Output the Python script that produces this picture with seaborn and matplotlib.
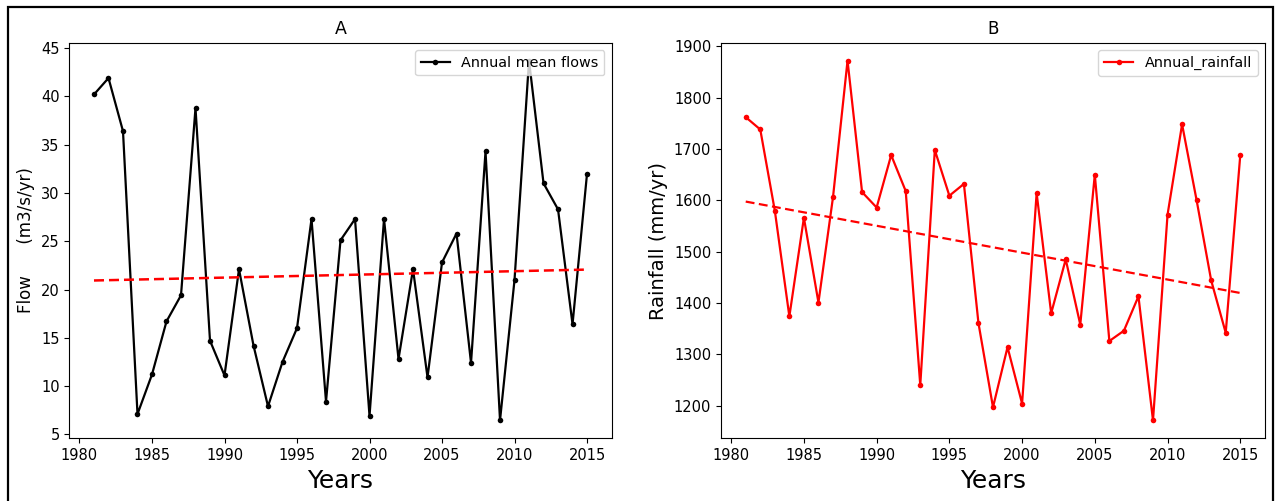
import numpy as np
import pandas as pd
import matplotlib
matplotlib.use("Agg")
import matplotlib.pyplot as plt
from matplotlib.patches import Rectangle
import seaborn as sns

years = list(range(1981, 2016))
flows = [40.2, 41.9, 36.4, 7.1, 11.2, 16.7, 19.4, 38.8, 14.7, 11.1,
         22.1, 14.2, 7.9, 12.5, 16.0, 27.3, 8.4, 25.1, 27.3, 6.9,
         27.3, 12.8, 22.1, 10.9, 22.8, 25.8, 12.4, 34.3, 6.45, 21.0,
         43.7, 31.0, 28.3, 16.4, 32.0]
rainfall = [1762, 1738, 1580, 1374, 1566, 1401, 1606, 1872, 1616, 1586,
            1688, 1618, 1240, 1698, 1609, 1632, 1361, 1197, 1314, 1204,
            1614, 1380, 1485, 1358, 1650, 1326, 1346, 1413, 1171.5, 1572,
            1748, 1600, 1444, 1342, 1688]

df = pd.DataFrame({"Years": years, "Flow": flows, "Rain": rainfall})

fig = plt.figure(figsize=(12.77, 5.01), dpi=100)
axA = fig.add_axes([0.0543, 0.1251, 0.479 - 0.0543, 0.9148 - 0.1251])
axB = fig.add_axes([0.5646, 0.1251, 0.9906 - 0.5646, 0.9148 - 0.1251])

# Panel A
sns.lineplot(data=df, x="Years", y="Flow", ax=axA, color="black", marker="o",
             markersize=4, markeredgewidth=0, linewidth=1.6, label="Annual mean flows")
cA = np.polyfit(df["Years"], df["Flow"], 1)
axA.plot(df["Years"], np.polyval(cA, df["Years"]), color="red", linestyle=(0, (4, 2)),
         linewidth=1.8)
axA.set_title("A", fontsize=12.5)
axA.set_xlabel("Years", fontsize=18)
axA.set_ylabel("Flow      (m3/s/yr)", fontsize=12)
axA.legend(loc="upper right", fontsize=10.4)

# Panel B
sns.lineplot(data=df, x="Years", y="Rain", ax=axB, color="red", marker="o",
             markersize=4, markeredgewidth=0, linewidth=1.6, label="Annual_rainfall")
cB = np.polyfit(df["Years"], df["Rain"], 1)
axB.plot(df["Years"], np.polyval(cB, df["Years"]), color="red", linestyle=(0, (4, 2)),
         linewidth=1.6)
axB.set_title("B", fontsize=12)
axB.set_xlabel("Years", fontsize=18)
axB.set_ylabel("Rainfall (mm/yr)", fontsize=14)
axB.legend(loc="upper right", fontsize=10.4)

for ax in (axA, axB):
    ax.set_xticks([1980, 1985, 1990, 1995, 2000, 2005, 2010, 2015])
    ax.tick_params(labelsize=10.5)

axB.set_yticks([1200, 1300, 1400, 1500, 1600, 1700, 1800, 1900])
axA.set_yticks([5, 10, 15, 20, 25, 30, 35, 40, 45])

# black frame around figure
fig.patches.append(Rectangle((8 / 1277, -0.02), (1273 - 8) / 1277, 1 - 7 / 501 + 0.02,
                             transform=fig.transFigure, fill=False,
                             edgecolor="black", linewidth=1.6))

fig.savefig("out.png", dpi=100)
